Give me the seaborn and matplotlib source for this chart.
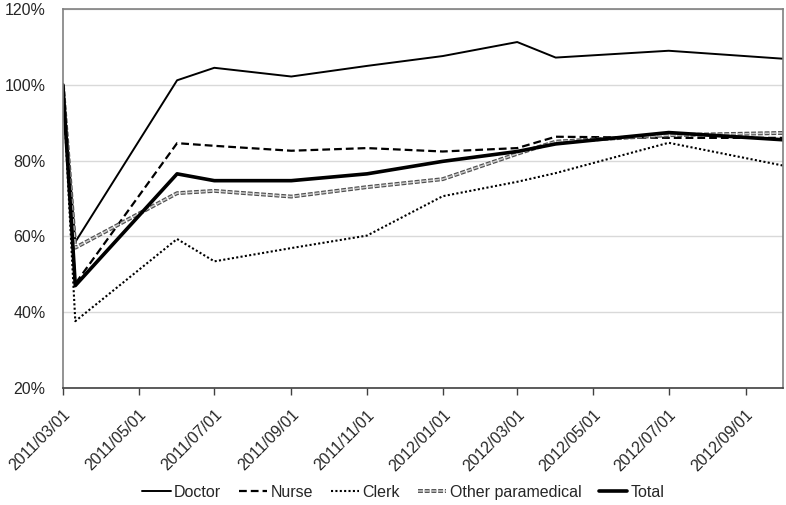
import matplotlib as mpl
import matplotlib.pyplot as plt
import matplotlib.dates as mdates
import matplotlib.patheffects as pe
from matplotlib.ticker import FuncFormatter
import seaborn as sns
import pandas as pd

mpl.use('Agg')

dates = ["2011-03-01", "2011-03-11", "2011-06-01", "2011-07-01", "2011-09-01", "2011-11-01",
         "2012-01-01", "2012-03-01", "2012-04-01", "2012-07-01", "2012-10-01"]
doctor = [100, 58.5, 101.2, 104.5, 102.2, 105.0, 107.6, 111.3, 107.2, 109.0, 106.9]
nurse = [100, 47.5, 84.6, 83.9, 82.6, 83.3, 82.4, 83.3, 86.3, 86.0, 86.0]
clerk = [100, 37.6, 59.3, 53.4, 56.9, 60.2, 70.6, 74.4, 76.7, 84.7, 78.7]
other_paramedical = [100, 57.0, 71.4, 72.0, 70.5, 73.0, 75.1, 81.8, 85.0, 86.7, 87.3]
total = [100, 47.0, 76.5, 74.7, 74.7, 76.5, 79.8, 82.4, 84.4, 87.4, 85.5]

tick_dates = ["2011-03-01", "2011-05-01", "2011-07-01", "2011-09-01", "2011-11-01",
              "2012-01-01", "2012-03-01", "2012-05-01", "2012-07-01", "2012-09-01"]
y_ticks = [20, 40, 60, 80, 100, 120]

df = pd.DataFrame({"date": pd.to_datetime(dates), "Doctor": doctor, "Nurse": nurse,
                   "Clerk": clerk, "Other paramedical": other_paramedical, "Total": total})

sns.set_style("white")
plt.rcParams['font.family'] = ['Liberation Sans', 'DejaVu Sans']

fig = plt.figure(figsize=(7.86, 5.05), dpi=100)
ax = fig.add_axes([0.080, 0.232, 0.916, 0.750])

ax.grid(axis='y', color='#d9d9d9', linewidth=1)
ax.set_axisbelow(True)

styles = {
    "Doctor": dict(color='black', linewidth=1.4, linestyle='-'),
    "Nurse": dict(color='black', linewidth=1.6, linestyle=(0, (3.5, 1.8))),
    "Clerk": dict(color='black', linewidth=1.5, linestyle=(0, (1, 1.1))),
    "Other paramedical": dict(color='#c8c8c8', linewidth=1.1, linestyle=(0, (3.2, 1.2)),
                              path_effects=[pe.Stroke(linewidth=2.8, foreground='#505050'), pe.Normal()]),
    "Total": dict(color='black', linewidth=2.6, linestyle='-'),
}
for name, st in styles.items():
    sns.lineplot(data=df, x="date", y=name, ax=ax, label=name, **st)

ax.set_xlim(pd.Timestamp("2011-03-01"), pd.Timestamp("2012-10-01"))
ax.set_ylim(20, 120)
ax.set_yticks(y_ticks)
ax.yaxis.set_major_formatter(FuncFormatter(lambda v, p: f"{v:.0f}%"))
ax.set_xticks(pd.to_datetime(tick_dates))
ax.xaxis.set_major_formatter(mdates.DateFormatter('%Y/%m/%d'))
ax.set_xlabel("")
ax.set_ylabel("")

ax.tick_params(axis='x', bottom=True, length=5, width=1, color='#404040', labelsize=11.5, pad=9)
ax.tick_params(axis='y', left=False, labelsize=11.5, pad=9)
for lbl in ax.get_xticklabels():
    lbl.set_rotation(45)
    lbl.set_ha('right')
    lbl.set_rotation_mode('anchor')

for side in ['top', 'right', 'left']:
    ax.spines[side].set_color('#808080')
    ax.spines[side].set_linewidth(1.2)
ax.spines['bottom'].set_color('#404040')
ax.spines['bottom'].set_linewidth(1.2)

handles, labels = ax.get_legend_handles_labels()
ax.legend().remove()
fig.legend(handles, labels, loc='center', bbox_to_anchor=(0.513, 0.025), ncol=5, frameon=False,
           fontsize=11.5, handlelength=1.8, handletextpad=0.2, columnspacing=1.1)

plt.savefig("out.png", dpi=100)
plt.close()
